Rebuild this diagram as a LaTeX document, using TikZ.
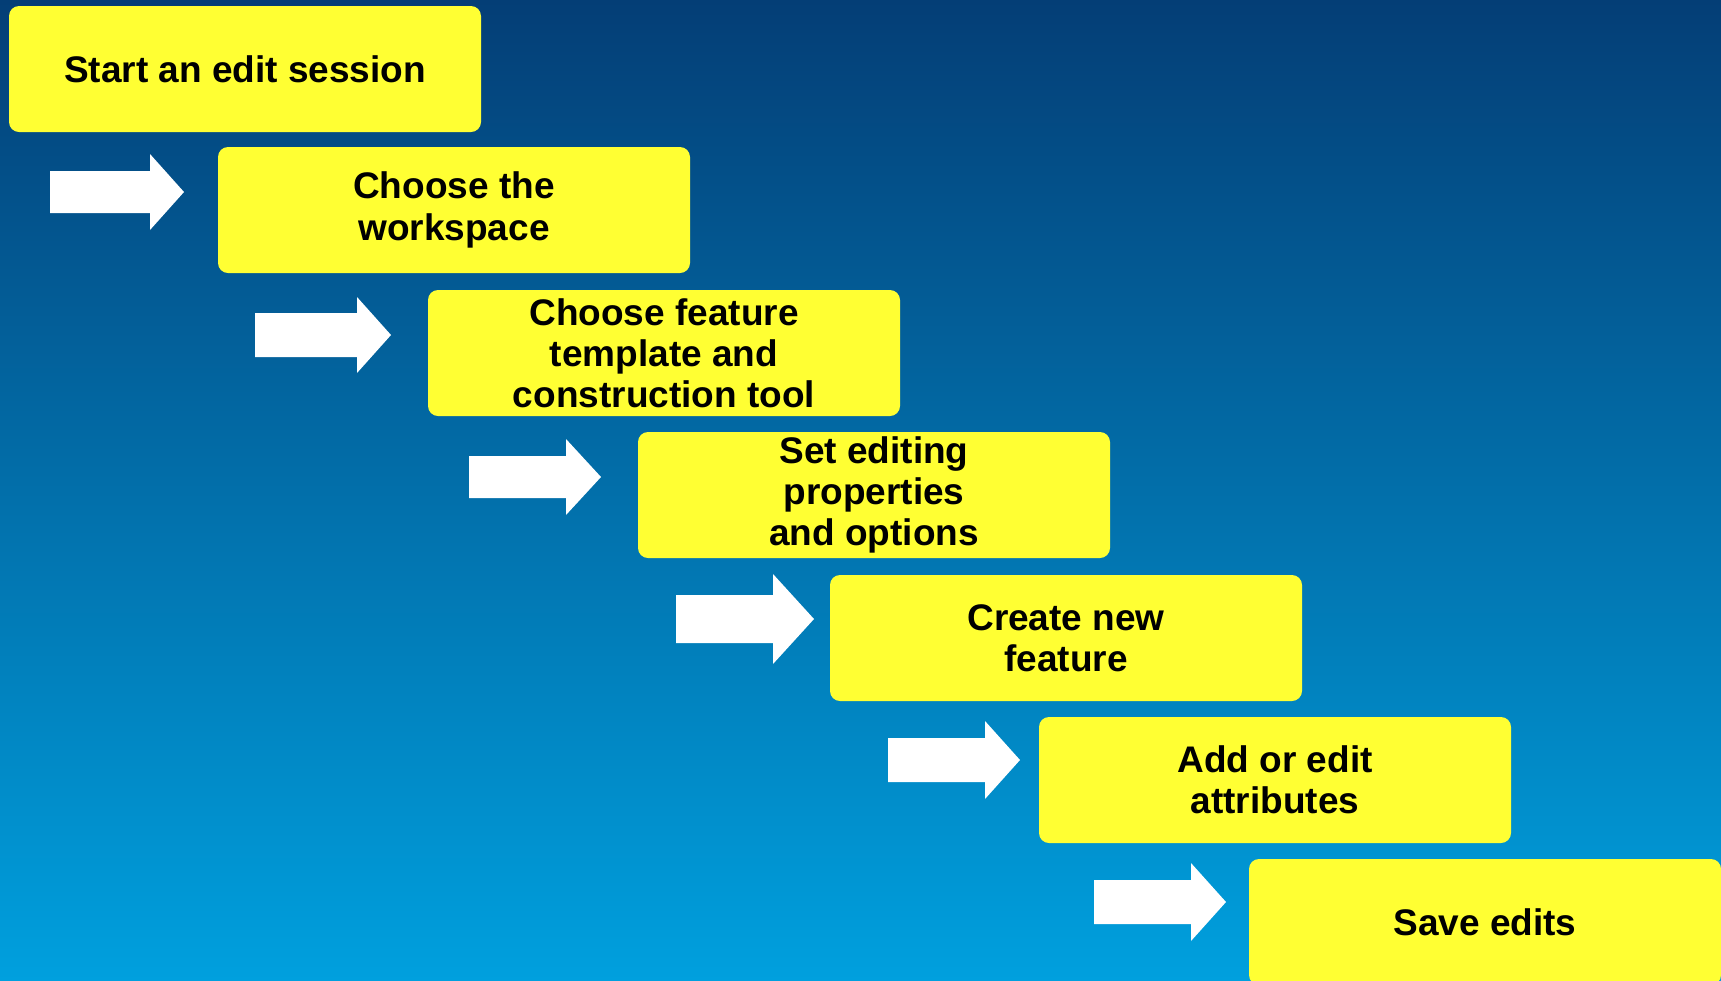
\documentclass[tikz,border=0pt]{standalone}
\usepackage{fontspec}
\setmainfont{Liberation Sans}
\usepackage{tikz}

\definecolor{bgtop}{HTML}{043E76}
\definecolor{bgbot}{HTML}{00A0DE}
\definecolor{stageyellow}{HTML}{FFFF33}

\begin{document}
\begin{tikzpicture}[
    x=0.5pt, y=-0.5pt,
    stagebox/.style={fill=stageyellow, rounded corners=5pt, minimum width=236pt, minimum height=63pt,
        inner sep=0pt, align=center, text=black, font=\fontsize{18.5}{20.6}\selectfont\bfseries},
    fatarrow/.style={fill=white},
]

% ── Background ──
\clip (0,0) rectangle (1721,981);
\shade[top color=bgtop, bottom color=bgbot] (0,0) rectangle (1721,981);

% ── Workflow steps ──
\node[stagebox] (start) at (245, 69) {Start an edit session};
\node[stagebox] (workspace) at (454, 210) {Choose the\\workspace};
\node[stagebox] (template) at (664, 353) {Choose feature\\template and\\construction tool};
\node[stagebox] (props) at (874, 495) {Set editing\\properties\\and options};
\node[stagebox] (create) at (1066, 638) {Create new\\feature};
\node[stagebox] (attrs) at (1275, 780) {Add or edit\\attributes};
\node[stagebox] (save) at (1485, 922) {Save edits};

% ── Block arrows ──
\fill[fatarrow] (50,192) -- ++(0,-21) -- ++(100,0) -- ++(0,-17) -- ++(34,38) -- ++(-34,38) -- ++(0,-17) -- ++(-100,0) -- cycle;
\fill[fatarrow] (255,335) -- ++(0,-22) -- ++(102,0) -- ++(0,-16) -- ++(34,38) -- ++(-34,38) -- ++(0,-16) -- ++(-102,0) -- cycle;
\fill[fatarrow] (469,477) -- ++(0,-21) -- ++(97,0) -- ++(0,-17) -- ++(35,38) -- ++(-35,38) -- ++(0,-17) -- ++(-97,0) -- cycle;
\fill[fatarrow] (676,619) -- ++(0,-24) -- ++(97,0) -- ++(0,-21) -- ++(41,45) -- ++(-41,45) -- ++(0,-21) -- ++(-97,0) -- cycle;
\fill[fatarrow] (888,760) -- ++(0,-22) -- ++(97,0) -- ++(0,-17) -- ++(35,39) -- ++(-35,39) -- ++(0,-17) -- ++(-97,0) -- cycle;
\fill[fatarrow] (1094,902) -- ++(0,-22) -- ++(97,0) -- ++(0,-17) -- ++(35,39) -- ++(-35,39) -- ++(0,-17) -- ++(-97,0) -- cycle;

\end{tikzpicture}
\end{document}
